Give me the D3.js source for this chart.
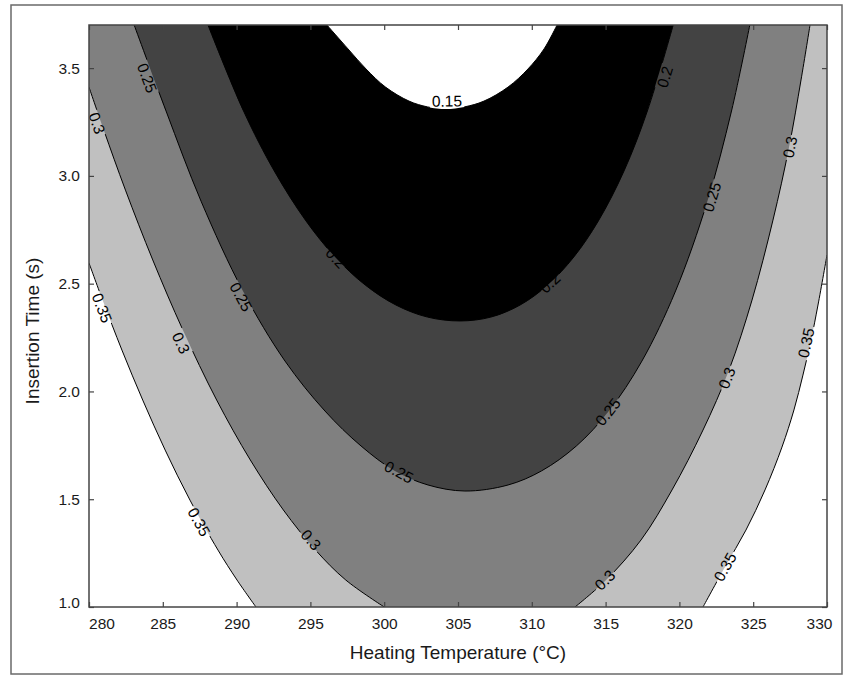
<!DOCTYPE html>
<html><head><meta charset="utf-8">
<script src="https://cdn.jsdelivr.net/npm/d3@7"></script>
<style>
html,body{margin:0;padding:0;background:#fff;}
svg{display:block;font-family:"Liberation Sans",Arial,sans-serif;}
</style></head><body>
<svg id="chart" width="845" height="676"></svg>
<script>
// ---------------- data ----------------
const xTicks = [280, 285, 290, 295, 300, 305, 310, 315, 320, 325, 330];
const yTicks = [1.0, 1.5, 2.0, 2.5, 3.0, 3.5];
const xDomain = [280, 330];
const yDomain = [1.0, 3.7];
const xTitle = "Heating Temperature (°C)";
const yTitle = "Insertion Time (s)";

const levels = [0.15, 0.2, 0.25, 0.3, 0.35];
const levelFills = ["#ffffff", "#000000", "#434343", "#808080", "#c0c0c0"];

// contour lines [temperature (°C), insertion time (s)]
const contour015 = [[296.12,3.700],[297.55,3.589],[298.77,3.496],[300.09,3.412],[301.68,3.347],[302.94,3.320],[304.19,3.310],[305.43,3.320],[306.76,3.347],[308.39,3.412],[309.74,3.496],[310.83,3.589],[311.71,3.700]];
const contour020 = [[288.06,3.700],[290.47,3.301],[292.55,3.023],[294.70,2.791],[296.67,2.624],[298.71,2.494],[300.79,2.401],[302.93,2.345],[305.14,2.327],[307.23,2.345],[309.21,2.401],[311.08,2.494],[312.85,2.624],[314.51,2.791],[316.25,3.023],[317.83,3.301],[319.58,3.700]];
const contour025 = [[283.06,3.700],[285.22,3.301],[287.59,2.883],[290.43,2.466],[293.28,2.141],[295.99,1.909],[298.43,1.747],[300.73,1.631],[302.97,1.566],[305.47,1.538],[308.39,1.566],[310.65,1.631],[313.02,1.747],[315.22,1.909],[317.46,2.141],[319.74,2.466],[321.90,2.883],[323.53,3.301],[324.77,3.700]];
const contour030Left = [[280.00,3.412],[281.00,3.213],[282.47,2.934],[284.32,2.610],[286.36,2.285],[288.65,1.960],[290.93,1.682],[293.17,1.450],[295.35,1.264],[297.40,1.125],[300.00,1.000]];
const contour030Right = [[312.93,1.000],[315.03,1.125],[317.40,1.311],[319.50,1.543],[321.60,1.821],[323.36,2.099],[324.92,2.424],[326.34,2.795],[327.43,3.134],[328.24,3.445],[328.85,3.700]];
const contour035Left = [[280.00,2.596],[280.92,2.424],[282.23,2.192],[283.64,1.960],[285.16,1.728],[286.84,1.496],[288.74,1.264],[290.03,1.125],[291.31,1.000]];
const contour035Right = [[321.60,1.000],[323.09,1.186],[324.51,1.357],[325.80,1.543],[326.95,1.742],[327.76,1.914],[328.37,2.076],[328.92,2.239],[329.39,2.401],[330.00,2.633]];

// contour labels (positions)
const labelLevels = [0.15, 0.2, 0.2, 0.2, 0.25, 0.25, 0.25, 0.25, 0.25, 0.3, 0.3, 0.3, 0.3, 0.3, 0.3, 0.35, 0.35, 0.35, 0.35];
const labelTemps  = [304.25, 296.73, 311.23, 319.02, 283.93, 290.30, 301.00, 315.16, 322.21, 280.54, 286.23, 295.04, 314.96, 323.22, 327.49, 280.88, 287.45, 323.09, 328.58];
const labelTimes  = [3.347, 2.619, 2.503, 3.459, 3.454, 2.438, 1.626, 1.905, 2.902, 3.245, 2.225, 1.311, 1.125, 2.062, 3.134, 2.387, 1.394, 1.186, 2.225];

// ---------------- drawing ----------------
const W = 845, H = 676;
const plot = {left: 89, right: 827, top: 25, bottom: 607};
const x = d3.scaleLinear().domain(xDomain).range([plot.left, plot.right]);
const y = d3.scaleLinear().domain(yDomain).range([plot.bottom, plot.top]);

const contourSets = [
  {level: 0.15, branches: [contour015]},
  {level: 0.2,  branches: [contour020]},
  {level: 0.25, branches: [contour025]},
  {level: 0.3,  branches: [contour030Left, contour030Right]},
  {level: 0.35, branches: [contour035Left, contour035Right]}
];

const svg = d3.select("#chart");
const defs = svg.append("defs");
defs.append("clipPath").attr("id", "plotClip")
  .append("rect").attr("x", plot.left).attr("y", plot.top)
  .attr("width", plot.right - plot.left).attr("height", plot.bottom - plot.top);

// outer frame of the figure
svg.append("rect").attr("x", 11).attr("y", 5).attr("width", 831).attr("height", 669)
  .attr("fill", "none").attr("stroke", "#6a6a6a").attr("stroke-width", 1.5);

const lineGen = d3.line().x(d => x(d[0])).y(d => y(d[1])).curve(d3.curveCatmullRom.alpha(0.5));

const gPlot = svg.append("g").attr("clip-path", "url(#plotClip)");
gPlot.append("rect").attr("x", plot.left).attr("y", plot.top)
  .attr("width", plot.right - plot.left).attr("height", plot.bottom - plot.top).attr("fill", "#ffffff");

// filled regions, from outermost (0.35) to innermost (0.15)
const ordered = contourSets.slice().sort((a, b) => b.level - a.level);
ordered.forEach(cs => {
  let d = "";
  cs.branches.forEach((b, i) => {
    const s = lineGen(b);
    d += (i === 0 ? s : "L" + s.slice(1));
  });
  d += "L" + x(xDomain[1]) + "," + y(yDomain[1]) + "L" + x(xDomain[0]) + "," + y(yDomain[1]) + "Z";
  gPlot.append("path").attr("d", d)
    .attr("fill", levelFills[levels.indexOf(cs.level)]).attr("stroke", "none");
});

// mask that opens gaps in the lines under the labels
const mask = defs.append("mask").attr("id", "gapMask").attr("maskUnits", "userSpaceOnUse")
  .attr("x", 0).attr("y", 0).attr("width", W).attr("height", H);
mask.append("rect").attr("x", 0).attr("y", 0).attr("width", W).attr("height", H).attr("fill", "#fff");

const gLines = gPlot.append("g").attr("mask", "url(#gapMask)");
const linePaths = {};
contourSets.forEach(cs => {
  linePaths[cs.level] = cs.branches.map(b =>
    gLines.append("path").attr("d", lineGen(b))
      .attr("fill", "none").attr("stroke", "#000").attr("stroke-width", 1).node());
});

// labels: text at the read position, aligned with the nearest part of its line;
// the gap is cut at the nearest point of the line
const gLabels = gPlot.append("g");
labelLevels.forEach((lv, i) => {
  const px = x(labelTemps[i]), py = y(labelTimes[i]);
  let best = null, bestD = Infinity;
  linePaths[lv].forEach(p => {
    const L = p.getTotalLength();
    for (let s = 0; s <= L; s += 1) {
      const pt = p.getPointAtLength(s);
      const dd = (pt.x - px) ** 2 + (pt.y - py) ** 2;
      if (dd < bestD) { bestD = dd; best = {p, s, L, pt}; }
    }
  });
  const a = best.p.getPointAtLength(Math.max(0, best.s - 4));
  const b = best.p.getPointAtLength(Math.min(best.L, best.s + 4));
  let ang = Math.atan2(b.y - a.y, b.x - a.x) * 180 / Math.PI;
  if (ang > 90) ang -= 180;
  if (ang < -90) ang += 180;
  const t = gLabels.append("text")
    .attr("transform", `translate(${px},${py}) rotate(${ang})`)
    .attr("text-anchor", "middle").attr("dy", "0.35em")
    .attr("font-size", 15.5).attr("fill", "#000").text(String(lv));
  const w = t.node().getComputedTextLength() + 4;
  mask.append("rect").attr("x", -w / 2).attr("y", -7).attr("width", w).attr("height", 14)
    .attr("transform", `translate(${best.pt.x},${best.pt.y}) rotate(${ang})`).attr("fill", "#000");
});

// axes
const axisColor = "#444";
const fmtY = d3.format(".1f");
const gx = svg.append("g").attr("transform", `translate(0,${plot.bottom})`)
  .call(d3.axisBottom(x).tickValues(xTicks).tickSizeInner(-5).tickSizeOuter(0).tickPadding(10.6));
const gxTop = svg.append("g").attr("transform", `translate(0,${plot.top})`)
  .call(d3.axisTop(x).tickValues(xTicks).tickSizeInner(-5).tickSizeOuter(0).tickFormat(""));
const gy = svg.append("g").attr("transform", `translate(${plot.left},0)`)
  .call(d3.axisLeft(y).tickValues(yTicks).tickSizeInner(-5).tickSizeOuter(0).tickPadding(9).tickFormat(fmtY));
const gyR = svg.append("g").attr("transform", `translate(${plot.right},0)`)
  .call(d3.axisRight(y).tickValues(yTicks).tickSizeInner(-5).tickSizeOuter(0).tickFormat(""));

[gx, gxTop, gy, gyR].forEach(g => {
  g.select(".domain").remove();
  g.selectAll(".tick line").attr("stroke", axisColor).attr("stroke-width", 1.2);
  g.selectAll(".tick text").attr("font-size", 15.5).attr("fill", "#1a1a1a")
    .attr("font-family", '"Liberation Sans", Arial, sans-serif');
});
gx.selectAll(".tick text").attr("dx", d => d === xDomain[0] ? 12.5 : (d === xDomain[1] ? -8 : 0));
gy.selectAll(".tick text").attr("dy", d => d === yDomain[0] ? "0.05em" : "0.32em");

svg.append("rect").attr("x", plot.left).attr("y", plot.top)
  .attr("width", plot.right - plot.left).attr("height", plot.bottom - plot.top)
  .attr("fill", "none").attr("stroke", axisColor).attr("stroke-width", 1.5);

// titles
svg.append("text").attr("x", (plot.left + plot.right) / 2).attr("y", 659)
  .attr("text-anchor", "middle").attr("font-size", 19).attr("fill", "#1a1a1a").text(xTitle);
svg.append("text").attr("transform", "translate(39,331) rotate(-90)")
  .attr("text-anchor", "middle").attr("font-size", 19).attr("fill", "#1a1a1a").text(yTitle);
</script>
</body></html>
